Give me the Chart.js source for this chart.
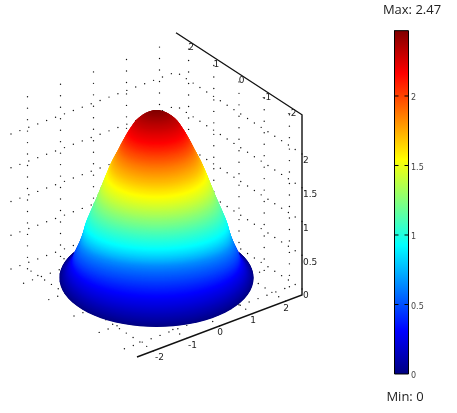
<!DOCTYPE html>
<html><head><meta charset="utf-8">
<style>html,body{margin:0;padding:0;background:#fff}#c{display:block;width:457px;height:413px}</style>
<script src="https://cdn.jsdelivr.net/npm/chart.js@4/dist/chart.umd.js"></script>
</head><body><canvas id="c" width="457" height="413"></canvas>
<script>
// ---- values ----
const horizontalTicks = [-2, -1, 0, 1, 2];
const heightTicks = [0, 0.5, 1, 1.5, 2];
const colorbarTicks = [0, 0.5, 1, 1.5, 2];
const valueMin = 0;
const valueMax = 2.47;
const axisLimit = 2.5;
const axisTop = 2.67;
// surface contours: value, radius, apparent height, apparent flattening
const contourValue  = [0, .16, .31, .45, .62, .78, .93, 1.08, 1.24, 1.40, 1.55, 1.70, 1.85, 2.00, 2.17, 2.30, 2.38, 2.43, 2.46, 2.47];
const contourRadius = [2.34, 2.19, 2.05, 1.98, 1.86, 1.78, 1.71, 1.59, 1.45, 1.33, 1.20, 1.08, .94, .82, .67, .51, .34, .22, .10, 0];
const contourLift   = [.104, .193, .326, .444, .607, .741, .889, 1.067, 1.259, 1.437, 1.630, 1.793, 1.956, 2.104, 2.267, 2.415, 2.504, 2.548, 2.578, 2.593];
const contourFlat   = [.505, .451, .400, .341, .312, .324, .338, .348, .383, .400, .440, .444, .436, .412, .393, .333, .321, .278, .250, 0];

// ---- view ----
const view = {ox:156.5, oy:285, ax:33, ay:-12.4, bx:-25.2, by:-16.4, z:67.5, rx:41.5};
const project = (a,b,z) => ({x:view.ox+a*view.ax+b*view.bx, y:view.oy+a*view.ay+b*view.by-z*view.z});
const bar = {left:394.5, right:408.5, tick:4};
const gridLift = 0.09, gridTop = 2.58;

function jet(t){
  const c = v => Math.round(255*Math.max(0,Math.min(1,v)));
  return `rgb(${c(1.5-Math.abs(4*t-3))},${c(1.5-Math.abs(4*t-2))},${c(1.5-Math.abs(4*t-1))})`;
}
// smooth reading between neighbouring contours, so the painted surface has no facets
function smoothTable(table, i, f){
  const p0 = table[Math.max(0,i-1)], p1 = table[i], p2 = table[i+1], p3 = table[Math.min(table.length-1,i+2)];
  const f2 = f*f, f3 = f2*f;
  return Math.max(0, 0.5*(2*p1+(p2-p0)*f+(2*p0-5*p1+4*p2-p3)*f2+(3*p1-p0-3*p2+p3)*f3));
}

const datasets = [];
// axes
const axisStyle = {showLine:true, fill:false, borderColor:'#111', borderWidth:1.4, pointRadius:0, order:1};
datasets.push({...axisStyle, data:[project(-axisLimit,-axisLimit,0),project(axisLimit,-axisLimit,0),project(axisLimit,-axisLimit,axisTop),project(axisLimit,axisLimit,axisTop)]});

// surface, painted from the rim up to the peak
const ringCount = 260, ringPoints = 72;
for(let k=0;k<=ringCount;k++){
  const v = valueMin+(valueMax-valueMin)*k/ringCount;
  let i = 0; while(i<contourValue.length-2 && v>contourValue[i+1]) i++;
  const f = Math.min(1,(v-contourValue[i])/(contourValue[i+1]-contourValue[i]));
  const r = smoothTable(contourRadius,i,f), lift = smoothTable(contourLift,i,f), flat = smoothTable(contourFlat,i,f);
  const c = project(0,0,lift), pts = [];
  for(let j=0;j<=ringPoints;j++){
    const th = 2*Math.PI*j/ringPoints;
    pts.push({x:c.x+r*view.rx*Math.cos(th), y:c.y+r*view.rx*flat*Math.sin(th)});
  }
  datasets.push({showLine:true, fill:'shape', data:pts, borderWidth:0, borderColor:'transparent', pointRadius:0, tension:0,
    backgroundColor:jet((v-valueMin)/(valueMax-valueMin)), order:1000+ringCount-k});
}

// dotted grid behind the surface
const dots = [];
const zStep = 0.17, hStep = 0.27;
for(const t of horizontalTicks){
  for(let z=0;z<=gridTop;z+=zStep){ dots.push(project(t,axisLimit,z)); dots.push(project(axisLimit,t,z)); }
  for(let s=-axisLimit;s<=axisLimit;s+=hStep){ dots.push(project(t,s,0)); dots.push(project(s,t,0)); }
}
for(const h of heightTicks){
  for(let s=-axisLimit;s<=axisLimit;s+=hStep){ dots.push(project(s,axisLimit,h+gridLift)); dots.push(project(axisLimit,s,h+gridLift)); }
}
datasets.push({showLine:false, data:dots, pointRadius:0.7, pointBorderWidth:0, pointBackgroundColor:'#111', order:5000});

// colour bar
const barData = [{x:bar.left,y:valueMin},{x:bar.right,y:valueMin},{x:bar.right,y:valueMax},{x:bar.left,y:valueMax},{x:bar.left,y:valueMin}];
const barDataset = {showLine:true, yAxisID:'yBar', fill:'shape', data:barData, borderColor:'#000', borderWidth:1, pointRadius:0, order:20, backgroundColor:'#000'};
datasets.push(barDataset);
for(const t of colorbarTicks.filter(t=>t>valueMin)){
  for(const seg of [[bar.left,bar.left+bar.tick],[bar.right-bar.tick,bar.right]])
    datasets.push({showLine:true, yAxisID:'yBar', fill:false, data:seg.map(x=>({x,y:t})), borderColor:'#000', borderWidth:1, pointRadius:0, order:10});
}

const labelPlugin = {id:'labels', afterDatasetsDraw(chart){
  const {ctx, scales:{x,y,yBar}} = chart;
  const put = (txt,px,py,font,color,align='center') => { ctx.font=font; ctx.fillStyle=color; ctx.textAlign=align; ctx.textBaseline='middle'; ctx.fillText(txt,px,py); };
  const tickFont = '9px "DejaVu Sans"', tickColor='#222';
  ctx.save();
  for(const t of horizontalTicks){
    const p = project(t,-axisLimit,0);
    put(String(t),x.getPixelForValue(p.x+(t<0?6:0.5)),y.getPixelForValue(p.y+7),tickFont,tickColor);
    const q = project(axisLimit,t,axisTop);
    put(String(t),x.getPixelForValue(q.x+2.5),y.getPixelForValue(q.y+7),tickFont,tickColor);
  }
  for(const t of heightTicks){
    const p = project(axisLimit,-axisLimit,t);
    put(String(t),x.getPixelForValue(p.x+1),y.getPixelForValue(p.y+1),tickFont,tickColor,'left');
  }
  for(const t of colorbarTicks){
    put(String(t),x.getPixelForValue(bar.right+2.5),yBar.getPixelForValue(t)+2,'8px "DejaVu Sans"','#444','left');
  }
  put('Max: '+valueMax,x.getPixelForValue(412),y.getPixelForValue(10),'13px "Open Sans"','#222');
  put('Min: '+valueMin,x.getPixelForValue(405),y.getPixelForValue(397),'13px "Open Sans"','#222');
  ctx.restore();
}};

const chart = new Chart(document.getElementById('c'),{
  type:'scatter',
  data:{datasets},
  plugins:[labelPlugin],
  options:{
    responsive:false, animation:false, events:[],
    layout:{padding:0, autoPadding:false},
    elements:{line:{tension:0}},
    plugins:{legend:{display:false},tooltip:{enabled:false},title:{display:false},filler:{propagate:false}},
    scales:{
      x:{type:'linear',min:0,max:457,display:false},
      y:{type:'linear',min:0,max:413,reverse:true,display:false},
      yBar:{type:'linear',min:-0.2806,max:2.6906,display:false}
    }
  }
});
// the bar's gradient runs along its own value scale, known once the chart has been laid out
const barScale = chart.scales.yBar;
const barGradient = chart.ctx.createLinearGradient(0,barScale.getPixelForValue(valueMin),0,barScale.getPixelForValue(valueMax));
for(let i=0;i<=40;i++) barGradient.addColorStop(i/40,jet(i/40));
barDataset.backgroundColor = barGradient;
chart.update();
</script></body></html>
